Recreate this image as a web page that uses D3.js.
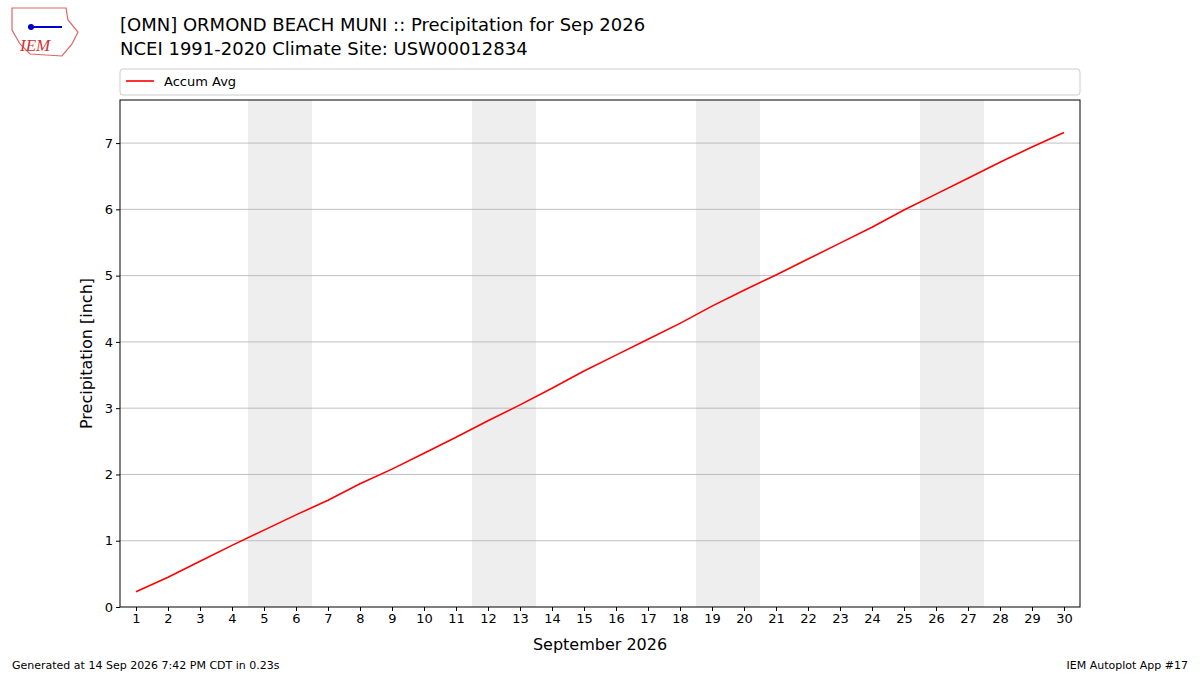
<!DOCTYPE html>
<html><head><meta charset="utf-8">
<script src="https://cdn.jsdelivr.net/npm/d3@7"></script>
<style>body{margin:0;background:#fff}svg{font-family:"DejaVu Sans",sans-serif}</style>
</head><body><svg id="c" width="1200" height="675"></svg>
<script>
const days = d3.range(1,31);
const accumAvg = [0.23,0.45,0.69,0.93,1.16,1.39,1.61,1.86,2.08,2.32,2.56,2.81,3.05,3.30,3.56,3.80,4.04,4.28,4.54,4.78,5.01,5.25,5.49,5.73,5.99,6.23,6.47,6.71,6.94,7.16];
const weekends = [[5,6],[12,13],[19,20],[26,27]];
const yTicks = [0,1,2,3,4,5,6,7];

const svg = d3.select("#c");
const L=120,R=1080,T=100,B=607;
const x = d3.scaleLinear().domain([0.5,30.5]).range([L,R]);
const y = d3.scaleLinear().domain([0,7.65]).range([B,T]);

weekends.forEach(w=>svg.append("rect").attr("x",x(w[0]-0.5)).attr("width",x(w[1]+0.5)-x(w[0]-0.5))
  .attr("y",T).attr("height",B-T).attr("fill","#eeeeee"));
yTicks.forEach(t=>{ if(t>0) svg.append("line").attr("x1",L).attr("x2",R).attr("y1",y(t)).attr("y2",y(t)).attr("stroke","#b0b0b0").attr("stroke-width",0.8);});

svg.append("path").datum(days.map((d,i)=>[d,accumAvg[i]])).attr("fill","none").attr("stroke","red").attr("stroke-width",1.6)
  .attr("d",d3.line().x(d=>x(d[0])).y(d=>y(d[1])));

svg.append("rect").attr("x",L).attr("y",T).attr("width",R-L).attr("height",B-T).attr("fill","none").attr("stroke","#000").attr("stroke-width",1);

const ax = svg.append("g").attr("transform",`translate(0,${B})`).call(d3.axisBottom(x).tickValues(days).tickSize(4).tickSizeOuter(0));
const ay = svg.append("g").attr("transform",`translate(${L},0)`).call(d3.axisLeft(y).tickValues(yTicks).tickSize(4).tickSizeOuter(0));
[ax,ay].forEach(a=>{a.select(".domain").remove();a.selectAll("text").attr("font-size",13).attr("fill","#000").attr("font-family","DejaVu Sans");});

svg.append("text").attr("x",600).attr("y",650).attr("text-anchor","middle").attr("font-size",16).text("September 2026");
svg.append("text").attr("transform",`translate(92,${(T+B)/2}) rotate(-90)`).attr("text-anchor","middle").attr("font-size",16).text("Precipitation [inch]");

svg.append("text").attr("x",120).attr("y",31).attr("font-size",18).text("[OMN] ORMOND BEACH MUNI :: Precipitation for Sep 2026");
svg.append("text").attr("x",120).attr("y",55).attr("font-size",18).text("NCEI 1991-2020 Climate Site: USW00012834");

svg.append("rect").attr("x",120).attr("y",69).attr("width",960).attr("height",26).attr("rx",3).attr("fill","#fff").attr("stroke","#ccc");
svg.append("line").attr("x1",126).attr("x2",154).attr("y1",81).attr("y2",81).attr("stroke","red").attr("stroke-width",1.6);
svg.append("text").attr("x",164).attr("y",86).attr("font-size",13).text("Accum Avg");

svg.append("text").attr("x",12).attr("y",669).attr("font-size",11).text("Generated at 14 Sep 2026 7:42 PM CDT in 0.23s");
svg.append("text").attr("x",1188).attr("y",669).attr("text-anchor","end").attr("font-size",11).text("IEM Autoplot App #17");

// logo
const g = svg.append("g");
g.append("path").attr("d","M12,8 L66,8 L68,20 L78,32 L72,44 L62,56 L30,54 L20,44 L12,30 Z").attr("fill","#fff").attr("stroke","#d66").attr("stroke-width",1.2);
g.append("line").attr("x1",28).attr("x2",62).attr("y1",27).attr("y2",27).attr("stroke","#00c").attr("stroke-width",2);
g.append("circle").attr("cx",31).attr("cy",27).attr("r",3).attr("fill","#00c");
g.append("text").attr("x",20).attr("y",51).attr("font-size",17).attr("font-style","italic").attr("font-family","Liberation Serif").attr("fill","#c33").text("IEM");
</script></body></html>
